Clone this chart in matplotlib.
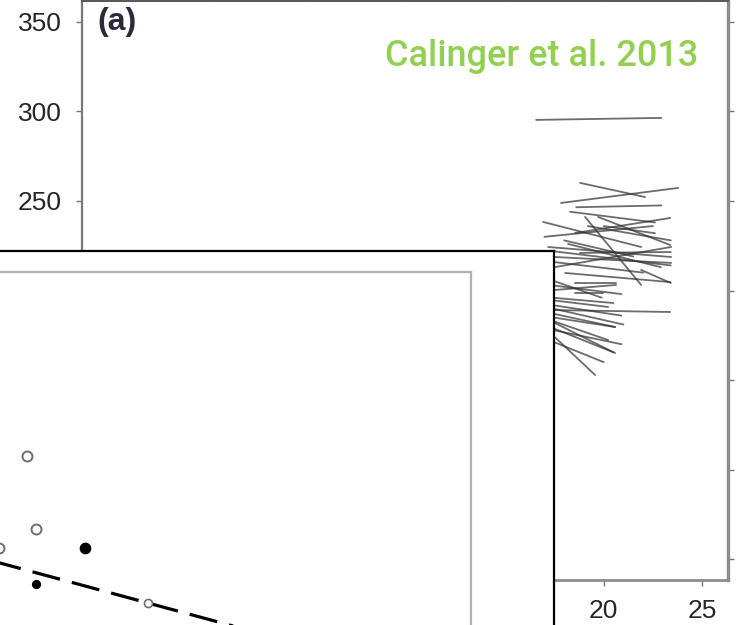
import matplotlib
matplotlib.use("Agg")
import matplotlib.pyplot as plt

# Panel (a): individual trajectories, one segment per record (x0, y0, x1, y1)
seg_x0 = [16.58, 18.81, 17.84, 18.61, 16.93, 19.06, 19.72, 18.55, 17.19, 17.54,
          18.05, 17.54, 18.55, 18.55, 17.30, 17.30, 17.30, 17.30, 17.30, 17.30,
          17.54, 21.90, 17.30, 17.54, 17.00, 18.20, 17.30, 17.30, 17.30, 17.30,
          18.30, 19.20, 18.00, 18.80, 17.40, 17.40, 17.40, 17.40, 17.40, 20.00]
seg_y0 = [295.3, 260.1, 248.9, 246.5, 238.3, 241.1, 241.1, 232.1, 224.3, 218.7,
          209.8, 213.1, 204.2, 198.6, 189.1, 187.4, 179.6, 176.3, 183.5, 194.7,
          200.3, 211.5, 185.2, 181.8, 230.0, 226.0, 206.0, 203.0, 172.0, 192.0,
          244.0, 236.0, 228.0, 221.0, 216.0, 222.0, 196.0, 178.0, 190.0, 236.0]
seg_x1 = [22.92, 22.10, 23.78, 22.92, 21.90, 21.90, 23.37, 23.37, 23.42, 23.42,
          23.37, 23.42, 20.63, 19.97, 23.37, 20.58, 20.58, 19.57, 20.23, 20.23,
          20.63, 23.40, 20.58, 20.48, 22.50, 22.90, 19.90, 20.90, 20.00, 20.90,
          22.60, 23.40, 21.50, 23.40, 22.00, 23.40, 20.50, 20.90, 21.00, 22.60]
seg_y1 = [296.4, 252.2, 257.3, 247.5, 224.3, 203.1, 225.4, 240.5, 218.7, 215.4,
          204.7, 224.3, 204.2, 198.6, 188.0, 179.6, 165.1, 152.8, 172.3, 190.8,
          203.1, 204.2, 179.6, 165.6, 236.0, 213.0, 196.0, 198.0, 160.0, 186.0,
          238.0, 228.0, 219.0, 221.5, 210.0, 214.0, 193.0, 170.0, 181.0, 232.0]

x_ticks = [-5, 0, 5, 10, 15, 20, 25]
y_ticks = [50, 100, 150, 200, 250, 300, 350]

# Inset panel: open and filled observations plus fitted trend
open_x = [19.48, 21.05, 14.34]
open_y = [56.97, 39.86, 35.49]
open_small_x = [41.43]
open_small_y = [22.58]
filled_x = [29.95]
filled_y = [35.56]
filled_small_x = [21.05]
filled_small_y = [27.01]
trend_x = [0, 100]
trend_y = [37.03, 2.29]

plt.rcParams['font.family'] = ['Liberation Sans', 'DejaVu Sans']
plt.rcParams['lines.scale_dashes'] = False

W, H = 741, 625
fig = plt.figure(figsize=(W / 100, H / 100), dpi=100)

def px_rect(left, top, right, bottom):
    return [left / W, (H - bottom) / H, (right - left) / W, (bottom - top) / H]

# ---- main panel ----
ax = fig.add_axes(px_rect(81.5, 1, 728, 580))
for x0, y0, x1, y1 in zip(seg_x0, seg_y0, seg_x1, seg_y1):
    ax.plot([x0, x1], [y0, y1], color='#333333', lw=1.3, alpha=0.72,
            solid_capstyle='round')
ax.set_xlim(-6.45, 26.3)
ax.set_ylim(38.3, 361.7)
ax.set_xticks(x_ticks)
ax.set_yticks(y_ticks)
ax.tick_params(axis='both', direction='out', length=4, width=1, color='#777777',
               labelsize=19, labelcolor='#262626', pad=10,
               top=True, right=True, labeltop=False, labelright=False)
ax.spines['left'].set(color='#777777', lw=1.6)
ax.spines['right'].set(color='#8c8c8c', lw=2.4)
ax.spines['top'].set(color='#555555', lw=1.4)
ax.spines['bottom'].set(color='#8c8c8c', lw=2.0)
ax.text(0.024, 0.99, '(a)', transform=ax.transAxes, ha='left', va='top',
        fontsize=23, fontweight='bold', color='#2a2a3a')
fig.text(698 / W, (H - 66) / H, 'Calinger et al. 2013', ha='right',
         va='baseline', fontsize=26, color='#92D050', family=['Roboto'],
         fontweight='medium')

# ---- inset frame ----
frame = fig.add_axes(px_rect(-40, 251, 554, 680))
frame.set_facecolor('white')
frame.set_xticks([])
frame.set_yticks([])
for side in ('left', 'bottom'):
    frame.spines[side].set_visible(False)
for side in ('top', 'right'):
    frame.spines[side].set(color='black', lw=1.6)

inner = fig.add_axes(px_rect(-80, 271.7, 470.7, 700))
inner.set_facecolor('white')
inner.set_xticks([])
inner.set_yticks([])
for s in inner.spines.values():
    s.set(color='#b0b0b0', lw=1.6)
inner.set_xlim(0, 100)
inner.set_ylim(0, 100)

inner.plot(trend_x, trend_y, color='black', lw=2.3,
           linestyle=(4.3, (20.5, 8.8)), dash_capstyle='butt')
inner.plot(open_x, open_y, 'o', ms=7.2, mfc='white', mec='#6e6e6e', mew=1.4,
           clip_on=False)
inner.plot(open_small_x, open_small_y, 'o', ms=5.8, mfc='white', mec='#6e6e6e',
           mew=1.2)
inner.plot(filled_x, filled_y, 'o', ms=7.4, color='black')
inner.plot(filled_small_x, filled_small_y, 'o', ms=5.6, color='black')

fig.savefig('out.png', dpi=100)
